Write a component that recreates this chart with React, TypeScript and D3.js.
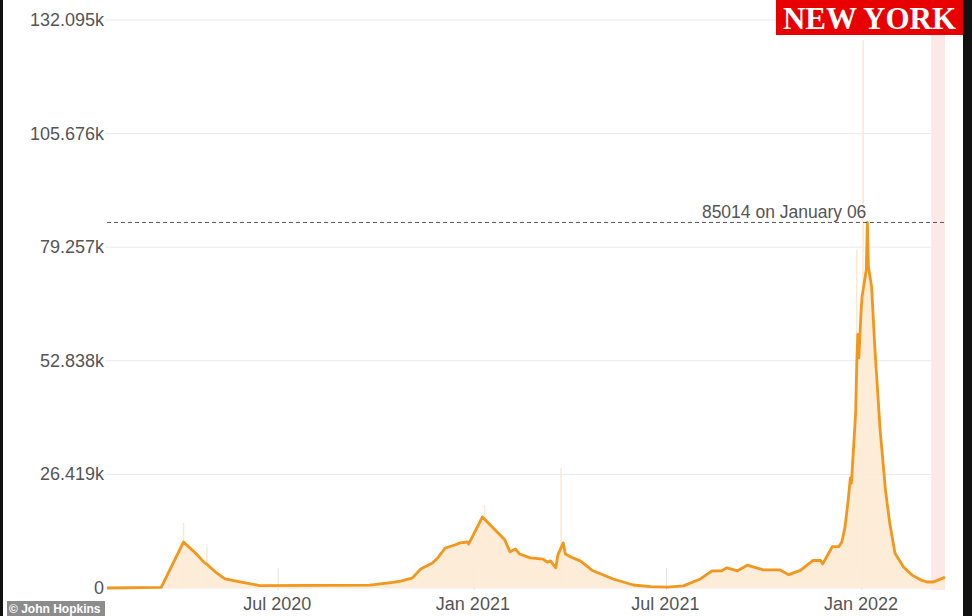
import React from "react";
import * as d3 from "d3";

const dates = [
  "2020-01-22","2020-03-13","2020-04-03","2020-04-06","2020-04-16","2020-04-22","2020-04-26","2020-05-03","2020-05-12","2020-05-26",
  "2020-06-14","2020-09-25","2020-10-05","2020-10-17","2020-10-24","2020-11-04","2020-11-12","2020-11-23","2020-11-28","2020-12-05",
  "2020-12-14","2020-12-19","2020-12-26","2020-12-27","2021-01-09","2021-01-30","2021-02-04","2021-02-09","2021-02-13","2021-02-23",
  "2021-03-07","2021-03-11","2021-03-14","2021-03-19","2021-03-21","2021-03-26","2021-03-28","2021-04-04","2021-04-11","2021-04-23",
  "2021-05-12","2021-05-31","2021-06-16","2021-07-02","2021-07-17","2021-08-02","2021-08-13","2021-08-22","2021-08-27","2021-09-06",
  "2021-09-15","2021-09-30","2021-10-16","2021-10-24","2021-11-04","2021-11-16","2021-11-23","2021-11-25","2021-12-04","2021-12-10",
  "2021-12-13","2021-12-16","2021-12-19","2021-12-21","2021-12-22","2021-12-26","2021-12-27","2021-12-28","2021-12-29","2021-12-31",
  "2022-01-01","2022-01-03","2022-01-05","2022-01-06","2022-01-07","2022-01-10","2022-01-13","2022-01-18","2022-01-23","2022-01-27",
  "2022-02-01","2022-02-09","2022-02-17","2022-02-25","2022-03-03","2022-03-09","2022-03-18","2022-03-20"
];
const cases = [
  0,150,10700,10000,7700,6000,5300,3700,2100,1400,
  550,650,950,1300,1600,2300,4400,5800,7000,9300,
  10000,10500,10700,10200,16500,11200,8400,9100,7900,7000,
  6700,6000,6300,4700,7700,10500,7900,7000,6300,4000,
  2100,700,300,200,500,2100,4000,4000,4700,4000,
  5300,4200,4200,3100,4100,6400,6400,5600,9600,9600,
  10700,14200,20500,25600,24400,40700,52000,59000,53500,64000,
  67700,70900,74000,85014,74700,70000,56000,36700,22800,15100,
  8100,4900,3000,1900,1400,1400,2300,2500
];

const spikeDates = ["2020-04-03","2020-04-25","2021-01-11","2021-03-24","2021-12-27","2022-01-02"];
const spikeValues = [15100,9500,19300,27900,78600,127400];

const yTicks = [0,26419,52838,79257,105676,132095];
const yTickLabels = ["0","26.419k","52.838k","79.257k","105.676k","132.095k"];
const xTickDates = ["2020-07-01","2021-01-01","2021-07-01","2022-01-01"];
const xTickLabels = ["Jul 2020","Jan 2021","Jul 2021","Jan 2022"];

const peakValue = 85014;
const peakDate = "2022-01-06";
const peakLabel = "85014 on January 06";
const highlightStart = "2022-03-07";

const parse = d3.utcParse("%Y-%m-%d");

export default function App() {
  const x = d3.scaleUtc().domain([parse("2020-01-22")!, parse("2022-03-20")!]).range([107, 945]);
  const y = d3.scaleLinear().domain([0, 132095]).range([588, 20]);
  const data = dates.map((d, i) => ({ date: parse(d)!, v: cases[i] }));
  const line = d3.line<any>().x(d => x(d.date)).y(d => y(d.v));
  const area = d3.area<any>().x(d => x(d.date)).y0(y(0)).y1(d => y(d.v));
  const font = "'Liberation Sans', Arial, sans-serif";
  const px = x(parse(peakDate)!);
  const hs = x(parse(highlightStart)!);
  return (
    <svg width={972} height={616} style={{ position: "fixed", left: 0, top: 0, background: "#fff" }}>
      <rect x={0} y={0} width={972} height={616} fill="#fff" />
      {yTicks.map((t, i) => (
        <line key={"g" + i} x1={105} x2={931} y1={y(t)} y2={y(t)} stroke="#e9e9e9" strokeWidth={1} />
      ))}
      <rect x={hs} y={0} width={945 - hs} height={590} fill="#fde4e4" opacity={0.85} />
      {xTickDates.map((d, i) => (
        <line key={"xt" + i} x1={x(parse(d)!)} x2={x(parse(d)!)} y1={568} y2={590} stroke="#e0e0e0" strokeWidth={1} />
      ))}
      {spikeDates.map((d, i) => (
        <line key={"s" + i} x1={x(parse(d)!)} x2={x(parse(d)!)} y1={y(0)} y2={y(spikeValues[i])} stroke="#fce8d2" strokeWidth={1.5} />
      ))}
      <path d={area(data)!} fill="#fdebd4" opacity={0.9} />
      <path d={line(data)!} fill="none" stroke="#f3961c" strokeWidth={2.8} strokeLinejoin="round" />
      <line x1={107} x2={945} y1={y(peakValue)} y2={y(peakValue)} stroke="#555" strokeWidth={1} strokeDasharray="4,3" />
      <text x={px - 1} y={y(peakValue) - 4} textAnchor="end" fontFamily={font} fontSize={17.5} fill="#555">{peakLabel}</text>
      {yTicks.map((t, i) => (
        <text key={"yl" + i} x={104} y={y(t) + 6} textAnchor="end" fontFamily={font} fontSize={18} fill="#555">{yTickLabels[i]}</text>
      ))}
      {xTickDates.map((d, i) => (
        <text key={"xl" + i} x={x(parse(d)!) - 1} y={610} textAnchor="middle" fontFamily={font} fontSize={18} fill="#555">{xTickLabels[i]}</text>
      ))}
      <rect x={776} y={0} width={187} height={35} fill="#e80000" />
      <text x={869.5} y={29} textAnchor="middle" fontFamily="'Liberation Serif', 'DejaVu Serif', serif" fontWeight="bold" fontSize={31} fill="#fff">NEW YORK</text>
      <rect x={7} y={601} width={98} height={15} fill="#8c8c8c" />
      <text x={9} y={613} fontFamily={font} fontWeight="bold" fontSize={12} fill="#fff">© John Hopkins</text>
      <rect x={0} y={0} width={3} height={616} fill="#111" />
      <rect x={963} y={0} width={9} height={616} fill="#111" />
    </svg>
  );
}
